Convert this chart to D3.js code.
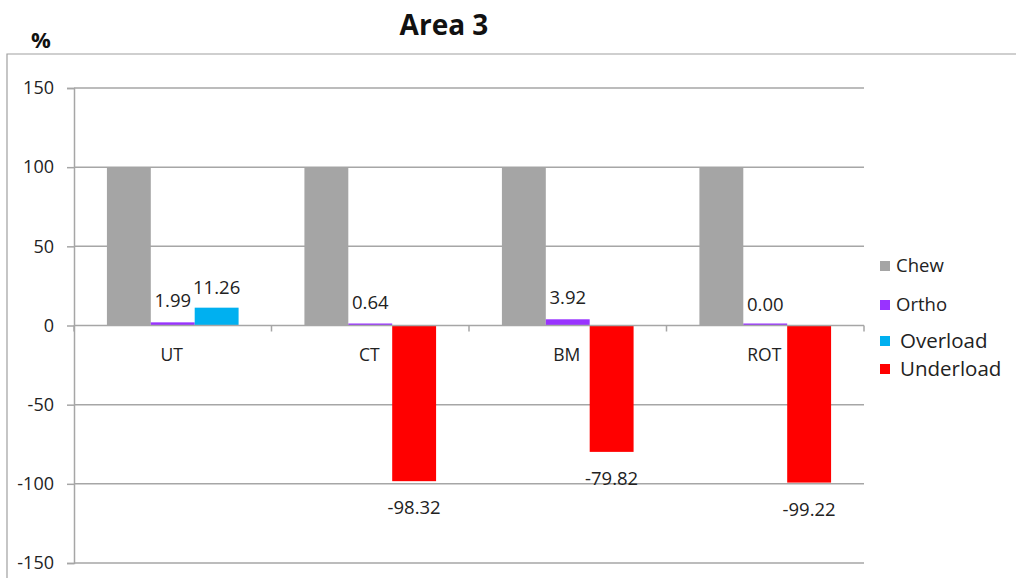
<!DOCTYPE html>
<html><head><meta charset="utf-8">
<script src="https://cdn.jsdelivr.net/npm/d3@7"></script>
<style>body{margin:0;background:#fff;}svg{display:block;font-family:"Open Sans",sans-serif;}</style>
</head><body><svg id="c" width="1016" height="578"></svg>
<script>
const categories = ["UT", "CT", "BM", "ROT"];
const chew = [100, 100, 100, 100];
const ortho = [1.99, 0.64, 3.92, 0.00];
const overload = [11.26, null, null, null];
const underload = [null, -98.32, -79.82, -99.22];
const yTicks = [150, 100, 50, 0, -50, -100, -150];
const seriesNames = ["Chew", "Ortho", "Overload", "Underload"];
const seriesColors = ["#a5a5a5", "#9933ff", "#00b0f0", "#ff0000"];

const svg = d3.select("#c");
const L = 74, R = 864, T = 88, B = 563;
const x0 = d3.scaleBand().domain(categories).range([L, R]).paddingInner(0.3333).paddingOuter(0.16667);
const slots = ["a", "b", "c"];
const x1 = d3.scaleBand().domain(slots).range([0, x0.bandwidth()]);
const y = d3.scaleLinear().domain([-150, 150]).range([B, T]);
const hy = s => String(s).replace("\u2212", "-");

// outer border
svg.append("path").attr("d", `M7,${578} L7,54 L1016,54`).attr("fill", "none").attr("stroke", "#a0a0a0").attr("stroke-width", 1.2);

// gridlines
svg.append("g").selectAll("line").data(yTicks.filter(d => d !== 0)).join("line")
  .attr("x1", L).attr("x2", R).attr("y1", d => y(d)).attr("y2", d => y(d))
  .attr("stroke", "#a6a6a6").attr("stroke-width", 1.5);

// y axis
const yAxis = d3.axisLeft(y).tickValues(yTicks).tickSize(7).tickPadding(13).tickFormat(d => hy(d3.format("d")(d)));
const gy = svg.append("g").attr("transform", `translate(${L},0)`).call(yAxis);
gy.select(".domain").attr("stroke", "#a6a6a6").attr("stroke-width", 1.5);
gy.selectAll(".tick line").attr("stroke", "#a6a6a6").attr("stroke-width", 1.5);
gy.selectAll(".tick text").attr("fill", "#222").style("font-size", "18px").style("font-family", "Open Sans, sans-serif");

// bars
const xOuter = d3.scaleBand().domain(categories).range([L, R]);
const barGroup = svg.append("g");
function drawSeries(vals, slot, color, minH) {
  barGroup.selectAll(null).data(vals.map((v, i) => ({v, c: categories[i]})).filter(d => d.v !== null)).join("rect")
    .attr("x", d => x0(d.c) + x1(slot))
    .attr("width", x1.bandwidth())
    .attr("y", d => Math.min(y(d.v), y(0) - (d.v >= 0 ? minH : 0)))
    .attr("height", d => Math.max(Math.abs(y(d.v) - y(0)), minH))
    .attr("fill", color);
}
drawSeries(chew, "a", seriesColors[0], 0);
drawSeries(ortho, "b", seriesColors[1], 2);
drawSeries(overload, "c", seriesColors[2], 0);
drawSeries(underload, "c", seriesColors[3], 0);

// x axis at zero
svg.append("line").attr("x1", L).attr("x2", R).attr("y1", y(0)).attr("y2", y(0)).attr("stroke", "#a6a6a6").attr("stroke-width", 1.5);
svg.append("g").selectAll("line").data(d3.range(categories.length + 1)).join("line")
  .attr("x1", i => L + i * xOuter.step()).attr("x2", i => L + i * xOuter.step())
  .attr("y1", y(0)).attr("y2", y(0) + 6).attr("stroke", "#a6a6a6").attr("stroke-width", 1.5);
svg.append("g").selectAll("text").data(categories).join("text")
  .attr("x", d => xOuter(d) + xOuter.bandwidth() / 2 - 1)
  .attr("y", y(0) + 35)
  .attr("text-anchor", "middle").attr("fill", "#222").style("font-size", "17.5px").text(d => d);

// value labels
const fmt = v => hy(d3.format(".2f")(v));
const lab = svg.append("g").style("font-size", "18.5px").attr("fill", "#222").attr("text-anchor", "middle");
ortho.forEach((v, i) => {
  lab.append("text").attr("x", x0(categories[i]) + x1("b") + x1.bandwidth() / 2).attr("y", y(v) - 15).text(fmt(v));
});
overload.forEach((v, i) => {
  if (v === null) return;
  lab.append("text").attr("x", x0(categories[i]) + x1("c") + x1.bandwidth() / 2).attr("y", y(v) - 14).text(fmt(v));
});
underload.forEach((v, i) => {
  if (v === null) return;
  lab.append("text").attr("x", x0(categories[i]) + x1("c") + x1.bandwidth() / 2).attr("y", y(v) + 33).text(fmt(v));
});

// title and unit
svg.append("text").attr("x", 444).attr("y", 35).attr("text-anchor", "middle").style("font-size", "28px").style("font-weight", "bold").attr("fill", "#111").text("Area 3");
svg.append("text").attr("x", 41).attr("y", 48).attr("text-anchor", "middle").style("font-size", "22px").style("font-weight", "bold").attr("fill", "#111").text("%");

// legend
const legY = [266, 305, 341, 369];
const legSize = [18.5, 18.5, 20.5, 20.5];
const leg = svg.append("g");
seriesNames.forEach((n, i) => {
  leg.append("rect").attr("x", 880).attr("y", legY[i] - 5).attr("width", 10).attr("height", 10).attr("fill", seriesColors[i]);
  leg.append("text").attr("x", i < 2 ? 896 : 900).attr("y", legY[i]).attr("dy", "0.35em").style("font-size", legSize[i] + "px").attr("fill", "#222").text(n);
});
</script></body></html>
